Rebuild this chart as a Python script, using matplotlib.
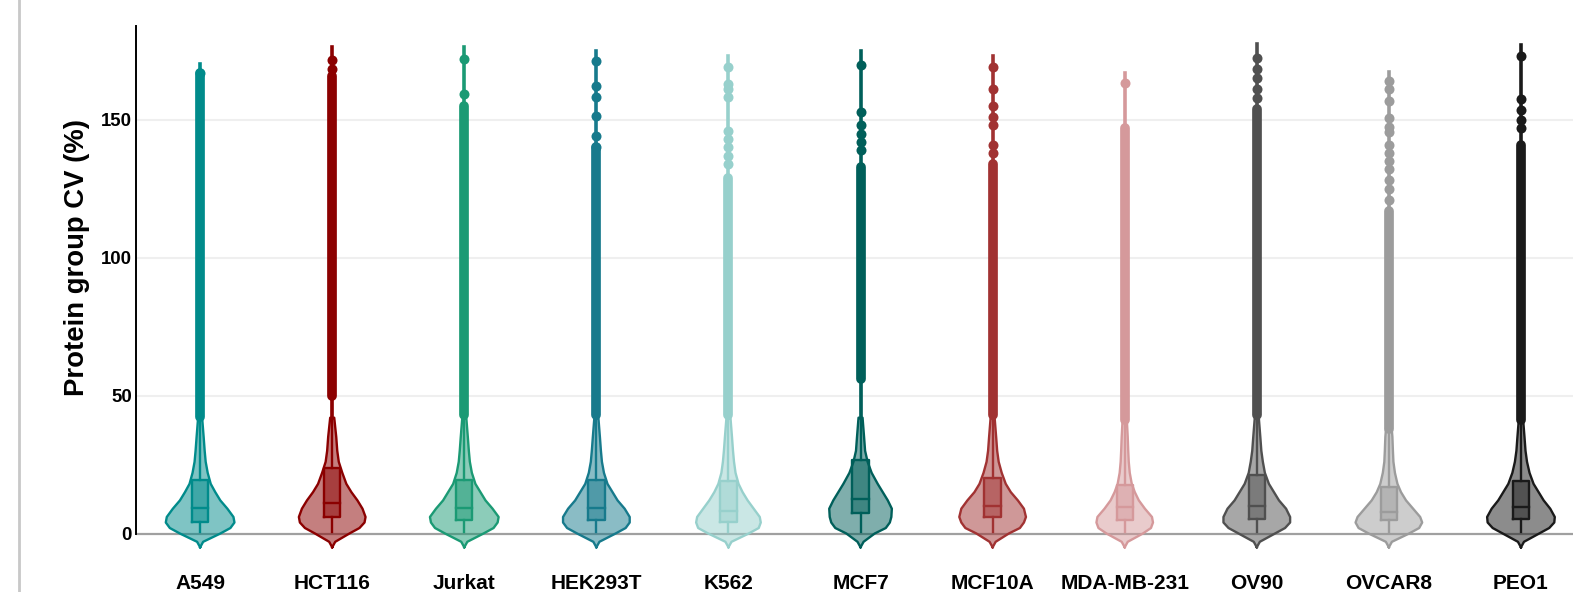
import numpy as np
import matplotlib
matplotlib.use("Agg")
import matplotlib.pyplot as plt
from matplotlib.lines import Line2D

plt.rcParams["font.family"] = ["Liberation Sans", "DejaVu Sans"]
plt.rcParams["font.weight"] = "bold"

categories = ["A549", "HCT116", "Jurkat", "HEK293T", "K562", "MCF7",
              "MCF10A", "MDA-MB-231", "OV90", "OVCAR8", "PEO1"]
colors = ["#008b8b", "#8b0000", "#1b9a74", "#177a8c", "#97d0cc", "#005f5a",
          "#a13232", "#d5999b", "#505050", "#9c9c9c", "#1a1a1a"]

# box statistics (CV %)
q1 = [4.3, 6.1, 4.9, 4.9, 4.3, 7.4, 5.9, 4.9, 5.3, 4.9, 5.3]
med = [9.4, 11.2, 9.4, 9.3, 8.2, 12.5, 10.0, 9.6, 10.0, 7.9, 9.6]
q3 = [19.4, 23.9, 19.4, 19.4, 18.9, 26.7, 20.2, 17.6, 21.3, 17.0, 18.9]
whisk_lo = [0.5] * 11

# dense outlier run (from, to), sparse outliers and max value
strip_lo = [42.4, 50, 43, 43, 43, 56, 43, 41, 43, 38, 41]
strip_hi = [167, 166, 155, 140, 129, 133, 134, 147, 154, 117, 141]
sparse = [
    [167],
    [171.6, 168.5],
    [172, 159.4],
    [171.4, 162.4, 158.4, 151.4, 144, 140],
    [169, 163, 161, 158.4, 146, 143, 140, 137, 134],
    [170, 153, 148, 145, 142, 139],
    [169, 161, 155, 151, 148, 141, 138],
    [163.4],
    [172.5, 168.5, 165, 161, 158],
    [164, 161, 157, 150.5, 147.5, 145.5, 141, 138, 135, 132, 128, 125, 121],
    [173.3, 157.6, 153.4, 150, 147],
]
vmax = [170.4, 176.4, 176.4, 175, 173, 175, 173, 167, 177.5, 167.5, 177]

# violin density profile (relative half widths at each level)
levels = [-5, -3, 0, 2, 4, 6, 9, 12, 15, 18, 22, 26, 30, 35, 42]
density = [
    [0, 3, 20, 30, 34, 33, 27, 20, 15, 10.5, 7.5, 5.5, 4.5, 3.5, 2],
    [0, 3, 17, 27, 32, 33, 30, 25, 19, 14, 10, 6.5, 5, 4, 2],
    [0, 3, 19, 29, 33, 34, 28, 21, 16, 11, 7.5, 5.5, 4.5, 3.5, 2],
    [0, 3, 19, 29, 33, 33, 28, 21, 16, 11, 7.5, 5.5, 4.5, 3.5, 2],
    [0, 3, 20, 30, 32, 31, 25, 19, 14, 10, 7, 5.5, 4.5, 3.5, 2],
    [0, 3, 14, 25, 29, 30.5, 31, 27, 22, 17, 11, 7, 4.5, 3.5, 2],
    [0, 3, 16, 27, 31, 33, 31, 25, 18, 13, 9, 6, 4.5, 3.5, 2],
    [0, 3, 18, 26, 28, 27, 20, 14, 10, 7, 5, 4, 3.5, 3, 2],
    [0, 3, 18, 28, 33, 33, 29, 22, 17, 12, 8, 6, 4.5, 3.5, 2],
    [0, 3, 20, 30, 33, 31, 24, 17, 12, 8.5, 6, 4.5, 4, 3.5, 2],
    [0, 3, 18, 28, 33, 33.5, 29, 22.5, 17.5, 12.5, 8.5, 6, 4.5, 3.5, 2],
]

fig = plt.figure(figsize=(15.73, 5.92), dpi=100)
ax = fig.add_axes([0.0865, 0.0615, 0.9224, 0.8945])

half = 0.26 / 34
lv = np.array(levels)
for i, cat in enumerate(categories):
    c = colors[i]
    d = np.array(density[i]) * half
    xs = np.concatenate([i - d, (i + d)[::-1]])
    ys = np.concatenate([lv, lv[::-1]])
    ax.fill(xs, ys, facecolor=c, alpha=0.5, edgecolor="none", zorder=2)
    ax.plot(xs, ys, color=c, lw=1.7, zorder=3, solid_joinstyle="round")
    # thin tail up to max
    ax.plot([i, i], [levels[-1], vmax[i]], color=c, lw=2.6, zorder=3)
    # dense outliers
    ax.plot([i, i], [strip_lo[i], strip_hi[i]], color=c, lw=7,
            solid_capstyle="round", zorder=4)
    ax.plot([i] * len(sparse[i]), sparse[i], "o", color=c, ms=7.2,
            mec="none", zorder=4)
    # box
    bw = 0.062
    ax.fill([i - bw, i + bw, i + bw, i - bw], [q1[i], q1[i], q3[i], q3[i]],
            facecolor=c, alpha=0.5, edgecolor="none", zorder=5)
    ax.plot([i - bw, i + bw, i + bw, i - bw, i - bw],
            [q1[i], q1[i], q3[i], q3[i], q1[i]], color=c, lw=1.7, zorder=6)
    ax.plot([i - bw, i + bw], [med[i], med[i]], color=c, lw=1.7, zorder=6)
    ax.plot([i, i], [whisk_lo[i], q1[i]], color=c, lw=1.7, zorder=6)
    ax.plot([i, i], [q3[i], strip_lo[i]], color=c, lw=1.7, zorder=6)

ax.set_xlim(-0.485, 10.5)
ax.set_ylim(-8, 184)
ax.set_xticks(range(len(categories)))
ax.set_xticklabels(categories, fontsize=15, fontweight="bold")
ax.set_yticks([0, 50, 100, 150])
ax.set_yticklabels(["0", "50", "100", "150"], fontsize=13.4, fontweight="bold")
ax.tick_params(axis="both", length=0)
ax.tick_params(axis="x", pad=13)
ax.tick_params(axis="y", pad=3)
for y in [50, 100, 150]:
    ax.axhline(y, color="#efefef", lw=1.5, zorder=0)
ax.axhline(0, color="#a0a0a0", lw=1.6, zorder=1)
for s in ["top", "right", "bottom"]:
    ax.spines[s].set_visible(False)
ax.spines["left"].set_bounds(0, 184)
ax.spines["left"].set_linewidth(1.4)
ax.set_ylabel("Protein group CV (%)", fontsize=19.8, fontweight="bold")
ax.yaxis.set_label_coords(-0.032, 0.563)

fig.add_artist(Line2D([18.5 / 1573, 18.5 / 1573], [0, 1], color="#c8c8c8", lw=2))

fig.savefig("out.png", dpi=100)
